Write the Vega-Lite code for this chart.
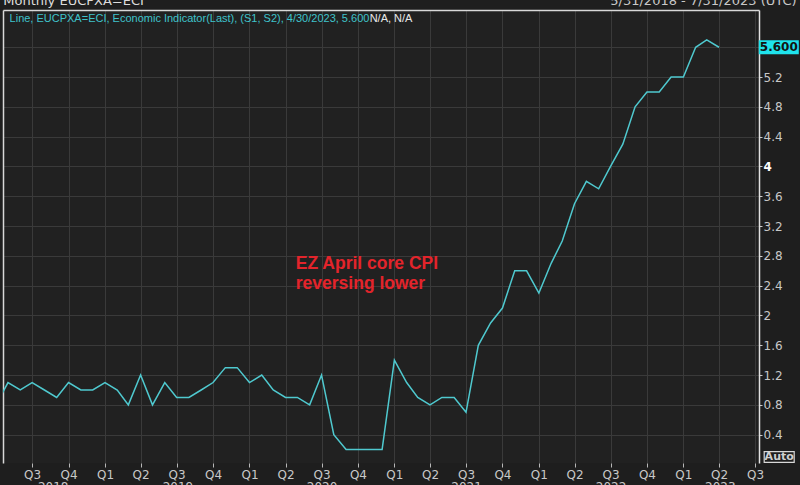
{
  "$schema": "https://vega.github.io/schema/vega-lite/v6.json",
  "width": 756,
  "height": 453,
  "autosize": {"type": "none"},
  "padding": {"left": 3, "top": 10, "right": 41, "bottom": 22},
  "background": "#1e1e1e",
  "config": {"view": {"fill": "#212121", "stroke": null}},
  "resolve": {"axis": {"x": "independent", "y": "independent"}},
  "data": {"values": [
    {"date": "2018-04-01", "value": 0.8},
    {"date": "2018-05-01", "value": 1.1},
    {"date": "2018-06-01", "value": 1.0},
    {"date": "2018-07-01", "value": 1.1},
    {"date": "2018-08-01", "value": 1.0},
    {"date": "2018-09-01", "value": 0.9},
    {"date": "2018-10-01", "value": 1.1},
    {"date": "2018-11-01", "value": 1.0},
    {"date": "2018-12-01", "value": 1.0},
    {"date": "2019-01-01", "value": 1.1},
    {"date": "2019-02-01", "value": 1.0},
    {"date": "2019-03-01", "value": 0.8},
    {"date": "2019-04-01", "value": 1.2},
    {"date": "2019-05-01", "value": 0.8},
    {"date": "2019-06-01", "value": 1.1},
    {"date": "2019-07-01", "value": 0.9},
    {"date": "2019-08-01", "value": 0.9},
    {"date": "2019-09-01", "value": 1.0},
    {"date": "2019-10-01", "value": 1.1},
    {"date": "2019-11-01", "value": 1.3},
    {"date": "2019-12-01", "value": 1.3},
    {"date": "2020-01-01", "value": 1.1},
    {"date": "2020-02-01", "value": 1.2},
    {"date": "2020-03-01", "value": 1.0},
    {"date": "2020-04-01", "value": 0.9},
    {"date": "2020-05-01", "value": 0.9},
    {"date": "2020-06-01", "value": 0.8},
    {"date": "2020-07-01", "value": 1.2},
    {"date": "2020-08-01", "value": 0.4},
    {"date": "2020-09-01", "value": 0.2},
    {"date": "2020-10-01", "value": 0.2},
    {"date": "2020-11-01", "value": 0.2},
    {"date": "2020-12-01", "value": 0.2},
    {"date": "2021-01-01", "value": 1.4},
    {"date": "2021-02-01", "value": 1.1},
    {"date": "2021-03-01", "value": 0.9},
    {"date": "2021-04-01", "value": 0.8},
    {"date": "2021-05-01", "value": 0.9},
    {"date": "2021-06-01", "value": 0.9},
    {"date": "2021-07-01", "value": 0.7},
    {"date": "2021-08-01", "value": 1.6},
    {"date": "2021-09-01", "value": 1.9},
    {"date": "2021-10-01", "value": 2.1},
    {"date": "2021-11-01", "value": 2.6},
    {"date": "2021-12-01", "value": 2.6},
    {"date": "2022-01-01", "value": 2.3},
    {"date": "2022-02-01", "value": 2.7},
    {"date": "2022-03-01", "value": 3.0},
    {"date": "2022-04-01", "value": 3.5},
    {"date": "2022-05-01", "value": 3.8},
    {"date": "2022-06-01", "value": 3.7},
    {"date": "2022-07-01", "value": 4.0},
    {"date": "2022-08-01", "value": 4.3},
    {"date": "2022-09-01", "value": 4.8},
    {"date": "2022-10-01", "value": 5.0},
    {"date": "2022-11-01", "value": 5.0},
    {"date": "2022-12-01", "value": 5.2},
    {"date": "2023-01-01", "value": 5.2},
    {"date": "2023-02-01", "value": 5.6},
    {"date": "2023-03-01", "value": 5.7},
    {"date": "2023-04-01", "value": 5.6}
  ]},
  "layer": [
    {
      "mark": {"type": "line", "color": "#4fc9cf", "strokeWidth": 1.5, "clip": true},
      "encoding": {
        "x": {
          "field": "date", "type": "temporal",
          "scale": {"type": "utc", "domain": [{"year": 2018, "month": 4, "date": 18, "hours": 10, "utc": true}, {"year": 2023, "month": 7, "date": 11, "utc": true}]},
          "axis": {
            "orient": "bottom", "title": null,
            "values": [
              {"year": 2018, "month": 7, "date": 1, "utc": true}, {"year": 2018, "month": 10, "date": 1, "utc": true},
              {"year": 2019, "month": 1, "date": 1, "utc": true}, {"year": 2019, "month": 4, "date": 1, "utc": true},
              {"year": 2019, "month": 7, "date": 1, "utc": true}, {"year": 2019, "month": 10, "date": 1, "utc": true},
              {"year": 2020, "month": 1, "date": 1, "utc": true}, {"year": 2020, "month": 4, "date": 1, "utc": true},
              {"year": 2020, "month": 7, "date": 1, "utc": true}, {"year": 2020, "month": 10, "date": 1, "utc": true},
              {"year": 2021, "month": 1, "date": 1, "utc": true}, {"year": 2021, "month": 4, "date": 1, "utc": true},
              {"year": 2021, "month": 7, "date": 1, "utc": true}, {"year": 2021, "month": 10, "date": 1, "utc": true},
              {"year": 2022, "month": 1, "date": 1, "utc": true}, {"year": 2022, "month": 4, "date": 1, "utc": true},
              {"year": 2022, "month": 7, "date": 1, "utc": true}, {"year": 2022, "month": 10, "date": 1, "utc": true},
              {"year": 2023, "month": 1, "date": 1, "utc": true}, {"year": 2023, "month": 4, "date": 1, "utc": true},
              {"year": 2023, "month": 7, "date": 1, "utc": true}
            ],
            "labelExpr": "'Q' + utcquarter(datum.value)",
            "grid": true, "gridColor": "#3a3a3a", "gridWidth": 1,
            "domain": false, "ticks": true, "tickColor": "#b8b8b8", "tickSize": 4,
            "labelPadding": 2, "labelFont": "DejaVu Sans", "labelFontSize": 12, "labelColor": "#c8c8c8",
            "labelBaseline": "top", "labelFlush": false, "labelOverlap": false
          }
        },
        "y": {
          "field": "value", "type": "quantitative",
          "scale": {"domain": [0.02, 6.1], "nice": false, "zero": false},
          "axis": {
            "orient": "right", "title": null,
            "values": [0.4, 0.8, 1.2, 1.6, 2, 2.4, 2.8, 3.2, 3.6, 4, 4.4, 4.8, 5.2, 5.6],
            "labelExpr": "datum.value > 5.5 ? '' : format(datum.value, '~g')",
            "grid": true, "gridColor": "#3a3a3a", "gridWidth": 1,
            "domain": true, "domainColor": "#e2e2e2", "domainWidth": 1.5,
            "ticks": true, "tickColor": "#c8c8c8", "tickSize": 3,
            "labelPadding": 1, "labelFont": "DejaVu Sans", "labelFontSize": 12,
            "labelColor": {"condition": {"test": "datum.value == 4", "value": "#ffffff"}, "value": "#c8c8c8"},
            "labelFontWeight": {"condition": {"test": "datum.value == 4", "value": "bold"}, "value": "normal"},
            "labelFlush": false, "labelOverlap": false
          }
        }
      }
    },
    {
      "data": {"values": [{"label": "Line, EUCPXA=ECI, Economic Indicator(Last), (S1, S2), 4/30/2023, 5.600"}]},
      "mark": {"type": "text", "align": "left", "baseline": "alphabetic", "font": "Liberation Sans", "fontSize": 11, "color": "#3fc3cb"},
      "encoding": {
        "text": {"field": "label"},
        "x": {"datum": {"year": 2018, "month": 5, "date": 5, "utc": true}, "type": "temporal",
              "axis": {"orient": "top", "title": null, "labels": false, "ticks": false, "grid": false, "domain": true, "domainColor": "#d8d8d8", "domainWidth": 1.5}},
        "y": {"datum": 5.94, "type": "quantitative",
              "axis": {"orient": "left", "title": null, "labels": false, "ticks": false, "grid": false, "domain": true, "domainColor": "#d8d8d8", "domainWidth": 1.5}}
      }
    },
    {
      "data": {"values": [{"label": "N/A, N/A"}]},
      "mark": {"type": "text", "align": "left", "baseline": "alphabetic", "font": "Liberation Sans", "fontSize": 11, "color": "#e8e8e8"},
      "encoding": {
        "text": {"field": "label"},
        "x": {"datum": {"year": 2020, "month": 10, "date": 30, "hours": 12, "utc": true}, "type": "temporal", "axis": null},
        "y": {"datum": 5.94, "type": "quantitative", "axis": null}
      }
    },
    {
      "data": {"values": [{"label": ["EZ April core CPI", "reversing lower"]}]},
      "mark": {"type": "text", "align": "left", "baseline": "middle", "font": "Liberation Sans", "fontSize": 17.5, "fontWeight": "bold", "lineHeight": 20, "color": "#e3242b"},
      "encoding": {
        "text": {"field": "label"},
        "x": {"datum": {"year": 2020, "month": 4, "date": 27, "utc": true}, "type": "temporal",
              "axis": {
                "orient": "bottom", "title": null,
                "values": [
                  {"year": 2018, "month": 8, "date": 22, "utc": true},
                  {"year": 2019, "month": 7, "date": 3, "utc": true},
                  {"year": 2020, "month": 7, "date": 1, "utc": true},
                  {"year": 2021, "month": 7, "date": 1, "utc": true},
                  {"year": 2022, "month": 7, "date": 1, "utc": true},
                  {"year": 2023, "month": 4, "date": 3, "utc": true}
                ],
                "labelExpr": "'' + utcyear(datum.value)",
                "grid": false, "domain": false, "ticks": false, "tickSize": 0,
                "labelPadding": 18.5, "labelFont": "DejaVu Sans", "labelFontSize": 12, "labelColor": "#c8c8c8",
                "labelBaseline": "top", "labelFlush": false, "labelOverlap": false
              }},
        "y": {"datum": 2.69, "type": "quantitative", "axis": null}
      }
    },
    {
      "data": {"values": [{"label": "Monthly EUCPXA=ECI"}]},
      "mark": {"type": "text", "align": "left", "baseline": "alphabetic", "font": "DejaVu Sans", "fontSize": 13, "color": "#dcdcdc"},
      "encoding": {
        "text": {"field": "label"},
        "x": {"datum": {"year": 2018, "month": 4, "date": 19, "utc": true}, "type": "temporal", "axis": null},
        "y": {"datum": 6.167, "type": "quantitative", "axis": null}
      }
    },
    {
      "data": {"values": [{"label": "5/31/2018 - 7/31/2023 (UTC)"}]},
      "mark": {"type": "text", "align": "right", "baseline": "alphabetic", "font": "DejaVu Sans", "fontSize": 13, "color": "#c8c8c8"},
      "encoding": {
        "text": {"field": "label"},
        "x": {"datum": {"year": 2023, "month": 10, "date": 14, "utc": true}, "type": "temporal", "axis": null},
        "y": {"datum": 6.167, "type": "quantitative", "axis": null}
      }
    },
    {
      "data": {"values": [{"label": "5.600"}]},
      "mark": {"type": "point", "shape": "M-1,-0.35H1V0.35H-1Z", "size": 1600, "filled": true, "color": "#1fe3ec", "opacity": 1, "strokeWidth": 0},
      "encoding": {
        "x": {"datum": {"year": 2023, "month": 8, "date": 30, "utc": true}, "type": "temporal", "axis": null},
        "y": {"datum": 5.6, "type": "quantitative", "axis": null}
      }
    },
    {
      "data": {"values": [{"label": "5.600"}]},
      "mark": {"type": "text", "align": "center", "baseline": "middle", "font": "DejaVu Sans", "fontSize": 12, "fontWeight": "bold", "color": "#141414"},
      "encoding": {
        "text": {"field": "label"},
        "x": {"datum": {"year": 2023, "month": 8, "date": 30, "utc": true}, "type": "temporal", "axis": null},
        "y": {"datum": 5.6, "type": "quantitative", "axis": null}
      }
    },
    {
      "data": {"values": [{"label": "Auto"}]},
      "mark": {"type": "point", "shape": "M-1,-0.36H1V0.36H-1Z", "size": 900, "filled": false, "color": "#d8d8d8", "opacity": 1, "strokeWidth": 1.2},
      "encoding": {
        "x": {"datum": {"year": 2023, "month": 8, "date": 31, "utc": true}, "type": "temporal", "axis": null},
        "y": {"datum": 0.1, "type": "quantitative", "axis": null}
      }
    },
    {
      "data": {"values": [{"label": "Auto"}]},
      "mark": {"type": "text", "align": "center", "baseline": "middle", "font": "DejaVu Sans", "fontSize": 11, "fontWeight": "bold", "color": "#cfcfcf"},
      "encoding": {
        "text": {"field": "label"},
        "x": {"datum": {"year": 2023, "month": 8, "date": 31, "utc": true}, "type": "temporal", "axis": null},
        "y": {"datum": 0.1, "type": "quantitative", "axis": null}
      }
    }
  ]
}
